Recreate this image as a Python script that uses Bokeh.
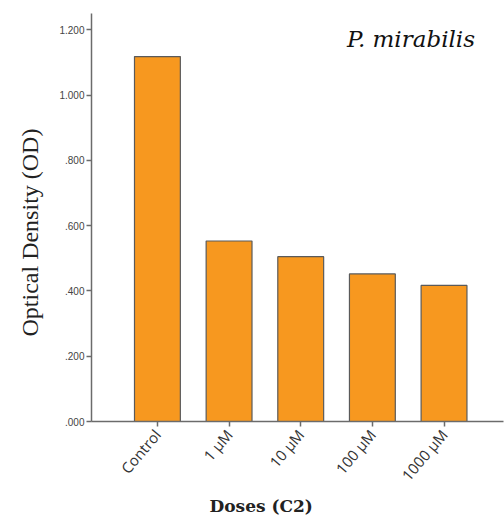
from bokeh.plotting import figure
from bokeh.models import Range1d, FixedTicker, Label, Title
from bokeh.embed import file_html
from bokeh.resources import INLINE

categories = ["Control", "1 µM", "10 µM", "100 µM", "1000 µM"]
od_values = [1.118, 0.553, 0.505, 0.452, 0.417]
y_ticks = [0.0, 0.2, 0.4, 0.6, 0.8, 1.0, 1.2]
y_tick_labels = [".000", ".200", ".400", ".600", ".800", "1.000", "1.200"]

xs = list(range(len(categories)))

p = figure(width=504, height=515, output_backend="svg", toolbar_location=None,
           x_range=Range1d(-0.92, 4.83), y_range=Range1d(0, 1.25),
           min_border_left=91, min_border_right=1, min_border_top=13, min_border_bottom=0)
p.outline_line_color = None
p.xgrid.visible = False
p.ygrid.visible = False

p.vbar(x=xs, top=od_values, width=0.64, bottom=0,
       fill_color="#F7981F", line_color="#5a5a5a", line_width=1.2)

p.yaxis.ticker = FixedTicker(ticks=y_ticks)
p.yaxis.major_label_overrides = {t: l for t, l in zip(y_ticks, y_tick_labels)}
p.xaxis.ticker = FixedTicker(ticks=xs)
p.xaxis.major_label_overrides = {x: c for x, c in zip(xs, categories)}
p.xaxis.major_label_orientation = 0.87

for ax in (p.xaxis, p.yaxis):
    ax.axis_line_color = "#6b6b6b"
    ax.axis_line_width = 1.5
    ax.major_tick_line_color = "#6b6b6b"
    ax.major_tick_line_width = 1.5
    ax.major_tick_out = 5
    ax.major_tick_in = 0
    ax.minor_tick_line_color = None

p.yaxis.major_label_text_font = "Liberation Sans"
p.yaxis.major_label_text_font_size = "10px"
p.yaxis.major_label_text_color = "#444444"
p.yaxis.major_label_standoff = 2
p.xaxis.major_label_text_font = "Open Sans"
p.xaxis.major_label_text_font_size = "15px"
p.xaxis.major_label_text_color = "#333333"
p.xaxis.major_label_standoff = 5

yt = Title(text="Optical Density (OD)", text_font="Liberation Serif", text_font_style="normal",
           text_font_size="24px", text_color="#222222", align="left",
           offset=85, standoff=27)
p.add_layout(yt, "left")

xt = Title(text="Doses (C2)", text_font="DejaVu Serif", text_font_style="bold",
           text_font_size="17px", text_color="#222222", align="left",
           offset=118, standoff=0)
p.add_layout(xt, "below")

p.add_layout(Label(x=3.54, y=1.173, text="P. mirabilis", text_font="DejaVu Serif",
                   text_font_style="italic", text_font_size="23px", text_color="#111111",
                   text_align="center", text_baseline="middle"))

open("out.html", "w").write(file_html(p, INLINE))
